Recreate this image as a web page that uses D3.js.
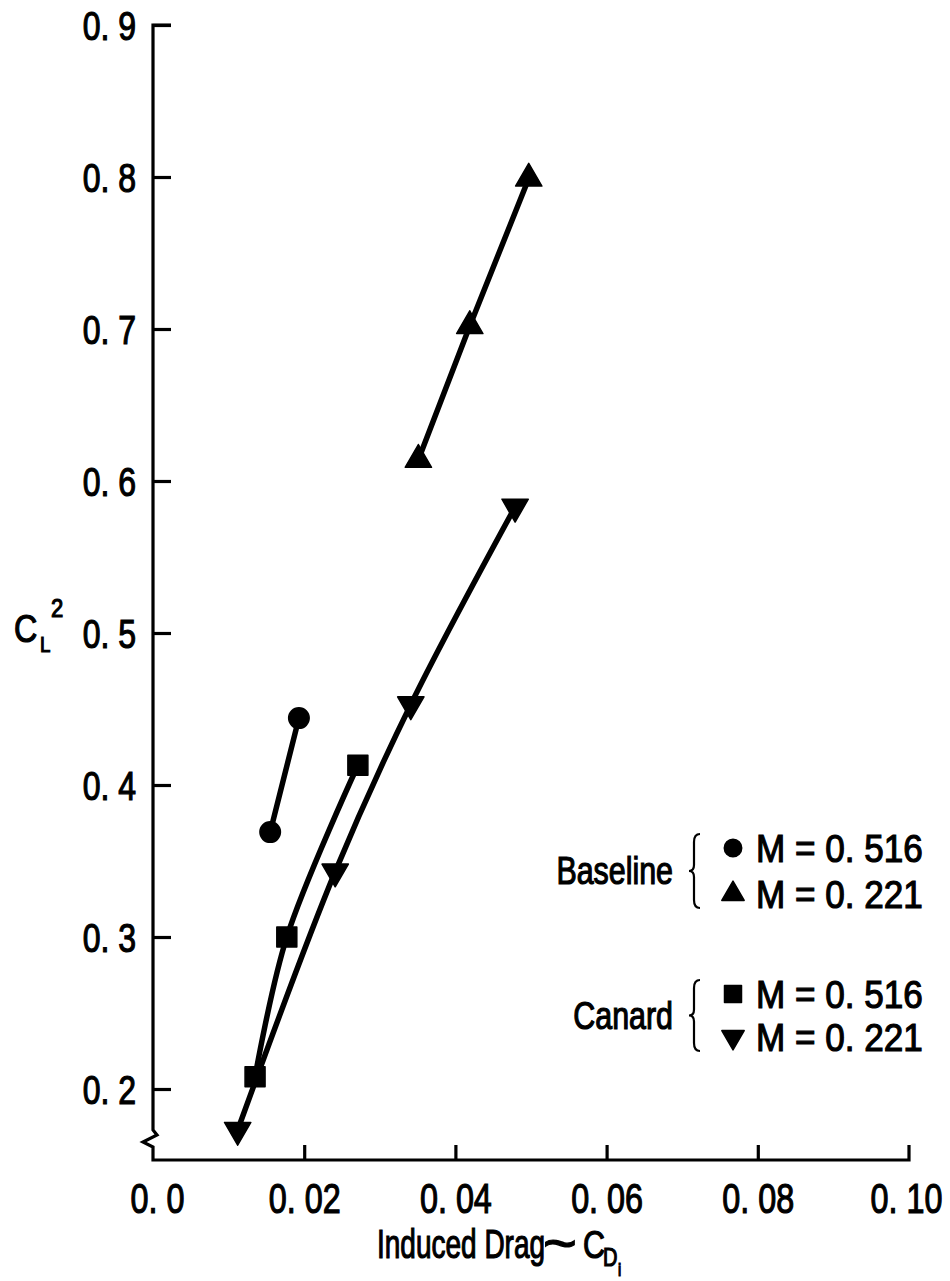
<!DOCTYPE html>
<html>
<head>
<meta charset="utf-8">
<script src="https://cdn.jsdelivr.net/npm/d3@7"></script>
<style>
  html, body { margin: 0; padding: 0; background: #fff; }
  svg { display: block; }
  text { font-family: "Liberation Sans", Arial, sans-serif; fill: #000; stroke: #000; stroke-width: 1.2px; }
</style>
</head>
<body>
<svg id="chart" width="950" height="1281"></svg>
<script>
// ---------------- data ----------------
const xTickValues = [0, 0.02, 0.04, 0.06, 0.08, 0.10];
const xTickLabels = ["0. 0", "0. 02", "0. 04", "0. 06", "0. 08", "0. 10"];
const yTickValues = [0.2, 0.3, 0.4, 0.5, 0.6, 0.7, 0.8, 0.9];
const yTickLabels = ["0. 2", "0. 3", "0. 4", "0. 5", "0. 6", "0. 7", "0. 8", "0. 9"];

const seriesNames = ["Baseline M = 0.516", "Baseline M = 0.221", "Canard M = 0.516", "Canard M = 0.221"];
// induced drag CDi (x) and CL^2 (y)
const baseline516_x = [0.0155, 0.0193];
const baseline516_y = [0.369, 0.444];
const baseline221_x = [0.0351, 0.0419, 0.0497];
const baseline221_y = [0.614, 0.702, 0.799];
const canard516_x = [0.0135, 0.0177, 0.0271];
const canard516_y = [0.208, 0.300, 0.413];
const canard221_x = [0.0112, 0.0241, 0.0341, 0.0479];
const canard221_y = [0.173, 0.343, 0.453, 0.583];

const legendGroups = ["Baseline", "Canard"];
const legendLabels = ["M = 0. 516", "M = 0. 221", "M = 0. 516", "M = 0. 221"];

// ---------------- chart ----------------
const svg = d3.select("#chart");
const x = d3.scaleLinear().domain([0, 0.10]).range([153, 909]);
const y = d3.scaleLinear().domain([0.2, 0.9]).range([1089, 25]);
const x0 = 153, yBase = 1160;
const SX = 0.8; // horizontal condensing of the typeface

const zip = (xs, ys) => xs.map((v, i) => ({ x: v, y: ys[i] }));
const series = [
  { name: seriesNames[0], pts: zip(baseline516_x, baseline516_y), sym: "circle", curve: d3.curveLinear },
  { name: seriesNames[1], pts: zip(baseline221_x, baseline221_y), sym: "up", curve: d3.curveLinear },
  { name: seriesNames[2], pts: zip(canard516_x, canard516_y), sym: "square", curve: d3.curveCatmullRom.alpha(0.5) },
  { name: seriesNames[3], pts: zip(canard221_x, canard221_y), sym: "down", curve: d3.curveCatmullRom.alpha(0.5) }
];

// helper for condensed text placed at (px, py)
function ctext(g, px, py, str, size, anchor, sx) {
  const s = sx || SX;
  return g.append("text")
    .attr("transform", `translate(${px},${py}) scale(${s},1)`)
    .attr("font-size", size)
    .attr("text-anchor", anchor || "start")
    .text(str);
}

// axes lines (with axis break on y)
const axisPath = d3.path();
axisPath.moveTo(x0 + 18, y(0.9));
axisPath.lineTo(x0, y(0.9));
axisPath.lineTo(x0, 1130);
axisPath.lineTo(x0 + 4, 1135);
axisPath.lineTo(x0 - 10, 1142);
axisPath.lineTo(x0, 1147);
axisPath.lineTo(x0, yBase);
axisPath.lineTo(x(0.10), yBase);
axisPath.lineTo(x(0.10), yBase - 15);
svg.append("path").attr("d", axisPath.toString())
  .attr("fill", "none").attr("stroke", "#000").attr("stroke-width", 3.2)
  .attr("stroke-linejoin", "miter");

// y axis ticks (inward)
const yAxis = d3.axisLeft(y)
  .tickValues(yTickValues)
  .tickFormat((d, i) => yTickLabels[i])
  .tickSizeInner(-18).tickSizeOuter(0).tickPadding(18);
const gy = svg.append("g").attr("transform", `translate(${x0},0)`).call(yAxis);
gy.select(".domain").remove();
gy.selectAll(".tick line").attr("stroke", "#000").attr("stroke-width", 3.2);
gy.selectAll(".tick text")
  .attr("font-size", 40).attr("font-family", null)
  .attr("x", -17 / SX).attr("dy", "0.36em")
  .attr("transform", `scale(${SX},1)`);

// x axis ticks (inward)
const xAxis = d3.axisBottom(x)
  .tickValues(xTickValues)
  .tickFormat((d, i) => xTickLabels[i])
  .tickSizeInner(-15).tickSizeOuter(0).tickPadding(14);
const gx = svg.append("g").attr("transform", `translate(0,${yBase})`).call(xAxis);
gx.select(".domain").remove();
gx.selectAll(".tick line").attr("stroke", "#000").attr("stroke-width", 3.2)
  .attr("display", d => (d === 0 || d === 0.10) ? "none" : null);
gx.selectAll(".tick text")
  .attr("font-size", 42).attr("font-family", null)
  .attr("dy", "0.93em")
  .attr("transform", `scale(${SX - 0.03},1)`);
gx.selectAll(".tick").filter(d => d === 0).select("text").attr("x", 4 / (SX - 0.03));
gx.selectAll(".tick").filter(d => d === 0.10).select("text").attr("x", -3 / (SX - 0.03));

// series lines
const line = d3.line().x(d => x(d.x)).y(d => y(d.y));
series.forEach(s => {
  svg.append("path")
    .datum(s.pts)
    .attr("d", line.curve(s.curve))
    .attr("fill", "none").attr("stroke", "#000").attr("stroke-width", 5.5)
    .attr("stroke-linecap", "round").attr("stroke-linejoin", "round");
});

// markers
function symbolPath(kind, scale) {
  const k = scale || 1;
  if (kind === "circle") return d3.symbol(d3.symbolCircle, 330 * k * k)();
  if (kind === "square") return d3.symbol(d3.symbolSquare, 400 * k * k)();
  return d3.symbol(d3.symbolTriangle, 300 * k * k)();
}
function addMarker(g, kind, cx, cy, scale) {
  const rot = kind === "down" ? 180 : 0;
  g.append("path")
    .attr("d", symbolPath(kind, scale))
    .attr("transform", `translate(${cx},${cy}) rotate(${rot})`)
    .attr("fill", "#000").attr("stroke", "#000").attr("stroke-width", 1.5)
    .attr("stroke-linejoin", "round");
}
const mg = svg.append("g");
series.forEach(s => {
  s.pts.forEach(p => addMarker(mg, s.sym, x(p.x), y(p.y), 1));
});

// y axis label: C_L^2
const ylg = svg.append("g");
ctext(ylg, 14, 642, "C", 38, "start", 0.85);
ctext(ylg, 40, 652, "L", 22, "start", 0.85);
ctext(ylg, 51, 617, "2", 26, "start", 0.85);

// x axis label: Induced Drag ~ C_Di
const xlg = svg.append("g");
ctext(xlg, 377, 1258, "Induced Drag", 40, "start", 0.7);
ctext(xlg, 543, 1263, "~", 58, "start", 1.0);
ctext(xlg, 583, 1258, "C", 38, "start", 0.8);
ctext(xlg, 603, 1266, "D", 25, "start", 0.8);
ctext(xlg, 618, 1276, "i", 18, "start", 0.8);

// legend
const lg = svg.append("g");
const legendRows = [
  { group: 0, sym: "circle", label: legendLabels[0], y: 848 },
  { group: 0, sym: "up", label: legendLabels[1], y: 894 },
  { group: 1, sym: "square", label: legendLabels[2], y: 994 },
  { group: 1, sym: "down", label: legendLabels[3], y: 1037 }
];
legendRows.forEach(r => {
  addMarker(lg, r.sym, 733, r.y, 0.85);
  ctext(lg, 756, r.y + 14, r.label, 39, "start", 0.9);
});
legendGroups.forEach((g, i) => {
  const rows = legendRows.filter(r => r.group === i);
  const cy = (rows[0].y + rows[1].y) / 2;
  ctext(lg, 673, cy + 13, g, 38, "end", 0.8);
  // curly brace
  const top = rows[0].y - 14, bot = rows[1].y + 14, bx = 694;
  const mid = (top + bot) / 2;
  const b = d3.path();
  b.moveTo(bx + 6, top);
  b.quadraticCurveTo(bx, top, bx, top + 8);
  b.lineTo(bx, mid - 6);
  b.quadraticCurveTo(bx, mid, bx - 5, mid);
  b.quadraticCurveTo(bx, mid, bx, mid + 6);
  b.lineTo(bx, bot - 8);
  b.quadraticCurveTo(bx, bot, bx + 6, bot);
  lg.append("path").attr("d", b.toString()).attr("fill", "none")
    .attr("stroke", "#000").attr("stroke-width", 2.2);
});
</script>
</body>
</html>
